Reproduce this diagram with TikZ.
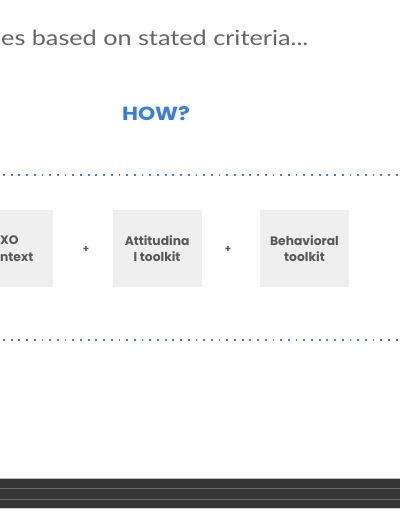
\documentclass[tikz,border=0pt]{standalone}
\usepackage{fontspec}
\setmainfont{Lato}
\newfontfamily\titlefont[FakeStretch=1.2]{Lato}
\newfontfamily\headfont{Poppins}
\newfontfamily\howfont[FakeStretch=1.15]{Poppins}
\usetikzlibrary{positioning}
\definecolor{howblue}{RGB}{59,125,221}
\definecolor{dotblue}{RGB}{74,128,212}
\definecolor{titlegrey}{RGB}{102,102,102}
\definecolor{boxgrey}{RGB}{239,239,239}
\definecolor{labelgrey}{RGB}{88,88,88}
\definecolor{bardark}{RGB}{53,53,53}
\tikzset{
  toolbox/.style={fill=boxgrey, minimum width=89pt, minimum height=77pt, inner sep=0pt,
    align=center, font=\headfont\bfseries\fontsize{12.3}{16.5}\selectfont, text=labelgrey},
  plussign/.style={font=\headfont\bfseries\fontsize{10}{10}\selectfont, text=labelgrey},
  dotline/.style={dotblue, line width=1.8pt, dash pattern=on 1.8pt off 5.9pt},
}

\begin{document}
\begin{tikzpicture}[x=1pt, y=1pt]
  \useasboundingbox[fill=white] (0,0) rectangle (400,-516);

  \node[anchor=base west, inner sep=0pt, text=titlegrey, font=\titlefont\fontsize{21}{24}\selectfont] (title) at (1,-46) {es based on stated criteria...};
  \node[text=howblue, font=\howfont\bfseries\fontsize{19}{22}\selectfont] (how) at (156,-113.5) {HOW?};

  \draw[dotline] (3,-175) -- (400,-175);
  \draw[dotline] (3,-340) -- (400,-340);

  % first box runs off the left edge
  \node[toolbox, minimum width=53pt, text width=53pt, align=left, anchor=west] (cxo) at (0,-248.5) {XO\\ntext};
  \node[toolbox, right=59pt of cxo] (att) {Attitudina\\l toolkit};
  \node[toolbox, right=58pt of att] (beh) {Behavioral\\toolkit};

  \node[plussign] (plusA) at (86,-249) {+};
  \node[plussign] (plusB) at (228,-249) {+};

  % footer bar
  \fill[bardark] (0,-478) rectangle (400,-509);
  \draw[gray!55, line width=0.8pt] (0,-478.4) -- (400,-478.4);
  \foreach \y in {488.5, 499}
    \draw[gray!70!bardark, line width=1pt] (0,-\y) -- (400,-\y);
  \draw[gray!40, line width=0.8pt] (0,-508.8) -- (400,-508.8);
\end{tikzpicture}
\end{document}
